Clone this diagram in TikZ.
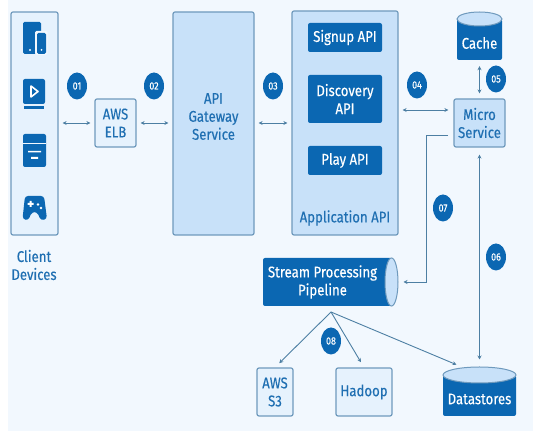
\documentclass[tikz,border=0pt]{standalone}
\usepackage{fontspec}
\setmainfont{Fira Sans}[FakeStretch=0.85,FakeBold=0.3]
\usetikzlibrary{arrows.meta,shapes.geometric}
\definecolor{pagebg}{HTML}{F2F8FE}
\definecolor{darkblue}{HTML}{0B67B2}
\definecolor{lightblue}{HTML}{C8E1F9}
\definecolor{paleblue}{HTML}{E6F2FD}
\definecolor{edgeblue}{HTML}{6F9ABD}
\definecolor{lineblue}{HTML}{4D7FA3}
\definecolor{textblue}{HTML}{1F6FB2}
\tikzset{
    boxbase/.style={rectangle,rounded corners=2pt,inner sep=0pt,align=center,font=\fontsize{15.5}{18}\selectfont},
    lightbox/.style={boxbase,draw=edgeblue,line width=1.2pt,fill=lightblue,text=textblue},
    palebox/.style={boxbase,draw=edgeblue,line width=1.2pt,fill=paleblue,text=textblue},
    darkbox/.style={boxbase,fill=darkblue,text=white},
    lidfill/.style={ellipse,inner sep=0pt,draw=edgeblue,line width=1pt,fill=lightblue},
    badge/.style={ellipse,inner sep=0pt,minimum width=20pt,minimum height=27pt,fill=darkblue,text=white,font=\fontsize{10.5}{10.5}\selectfont},
    link/.style={draw=lineblue,line width=0.9pt,-{Stealth[length=4pt,width=4pt]}},
    twoway/.style={draw=lineblue,line width=0.9pt,{Stealth[length=4pt,width=4pt]}-{Stealth[length=4pt,width=4pt]}},
    icon/.style={fill=darkblue,draw=none}
}
\begin{document}
\begin{tikzpicture}[x=1pt,y=-1pt]
    \useasboundingbox (0,0) rectangle (558,435) ;
    \fill [white] (0,0) rectangle (558,435) ;
    \fill [pagebg] (8,0) rectangle (533,431) ;
    % boxes
    \draw (34.5,123.5) node[palebox,minimum width=47pt,minimum height=223pt] (client) {} ;
    \draw (115.5,123) node[palebox,minimum width=41pt,minimum height=48pt] (elb) {AWS\\ELB} ;
    \draw (213.5,123.5) node[lightbox,minimum width=81pt,minimum height=223pt] (gateway) {} ;
    \draw (213.5,116.5) node[boxbase,text=textblue] (gatewaylabel) {API\\Gateway\\Service} ;
    \draw (345,123) node[lightbox,minimum width=106pt,minimum height=224pt] (app) {} ;
    \draw (345,37.5) node[darkbox,minimum width=74pt,minimum height=29pt] (signup) {Signup API} ;
    \draw (345,99) node[darkbox,minimum width=74pt,minimum height=48pt] (discovery) {Discovery\\API} ;
    \draw (345,160.5) node[darkbox,minimum width=74pt,minimum height=29pt] (play) {Play API} ;
    \draw (345,218) node[boxbase,text=textblue] (applabel) {Application API} ;
    \draw (479.5,123) node[lightbox,minimum width=51pt,minimum height=48pt] (micro) {Micro\\Service} ;
    \draw (275,392) node[palebox,minimum width=36pt,minimum height=48pt] (s3) {AWS\\S3} ;
    \draw (364,392) node[palebox,minimum width=56pt,minimum height=48pt] (hadoop) {Hadoop} ;
    \draw (34,265) node[boxbase,text=textblue] (clientlabel) {Client\\Devices} ;
    % stores
    \draw (479.5,39.5) node[darkbox,minimum width=45pt,minimum height=41pt] (cache) {} ;
    \draw (479.5,19) node[lidfill,minimum width=45pt,minimum height=14pt] (cachelid) {} ;
    \draw (479.5,43) node[boxbase,text=white] (cachelabel) {Cache} ;
    \draw (479.5,395.5) node[darkbox,minimum width=73pt,minimum height=41pt] (datastores) {} ;
    \draw (479.5,375) node[lidfill,minimum width=73pt,minimum height=16pt] (datalid) {} ;
    \draw (479.5,399) node[boxbase,text=white] (datalabel) {Datastores} ;
    \draw (327.5,282) node[darkbox,minimum width=129pt,minimum height=48pt] (stream) {} ;
    \draw (391.5,282) node[lidfill,minimum width=13pt,minimum height=48pt] (streamlid) {} ;
    \draw (322.5,282) node[boxbase,text=white] (streamlabel) {Stream Processing\\Pipeline} ;
    % badges
    \foreach \num/\x/\y in {01/77/86,02/154/86,03/273/86,04/417/85,05/496/79,06/496/257,07/443/208,08/331/341}
        \draw (\x,\y) node[badge] (b\num) {\num} ;
    % connectors
    \draw [twoway,shorten <=4pt,shorten >=4pt] (client.east |- elb.west) -- (elb.west) ;
    \draw [twoway,shorten <=4pt,shorten >=4pt] (elb.east) -- (gateway.west |- elb.east) ;
    \draw [twoway,shorten <=4pt,shorten >=4pt] (gateway.east |- app.west) -- (app.west) ;
    \draw [twoway,shorten <=4pt,shorten >=5pt] (app.east |- 0,110) -- (micro.west |- 0,110) ;
    \draw [twoway,shorten <=6pt,shorten >=5pt] (cache.south) -- (micro.north) ;
    \draw [twoway,shorten <=7pt,shorten >=7pt] (micro.south) -- (micro.south |- datalid.north) ;
    \coordinate (elbow1) at (426,135) ;
    \coordinate (elbow2) at (426,282) ;
    \draw [link,shorten >=5pt] (448,135) -- (elbow1) -- (elbow2) -- (streamlid.east) ;
    \coordinate (split) at (331,312) ;
    \draw [link,shorten >=6pt] (split) -- (s3.north) ;
    \draw [link,shorten >=6pt] (split) -- (hadoop.north) ;
    \draw [link,shorten >=6pt] (split) -- (462,367) ;
    % tablet and phone
    \fill [icon,rounded corners=1.5pt] (23,22) rectangle (41,54) ;
    \fill [pagebg,rounded corners=1.5pt] (35,31) rectangle (47.5,55) ;
    \fill [icon,rounded corners=1.5pt] (37,33) rectangle (46,54) ;
    \fill [pagebg] (30,50) circle (1.2pt) (41.5,50) circle (1pt) ;
    % player
    \fill [icon,rounded corners=2pt] (23,79) rectangle (45,104) ;
    \fill [icon] (24,106.5) rectangle (44,109) ;
    \draw [white,line width=1.6pt,line join=round] (31,86) -- (38,91.5) -- (31,97) -- cycle ;
    % window
    \fill [icon,rounded corners=2pt] (23,134) rectangle (46,167) ;
    \draw [pagebg,line width=0.8pt] (23,143) -- (46,143) ;
    \fill [white] (28,151) rectangle (41,152.5) (31,157) rectangle (38,159) ;
    % gamepad
    \fill [icon,rounded corners=3pt] (25,196) -- (44,196) -- (47,219) -- (41,220.5) -- (37,212) -- (32,212) -- (28,220.5) -- (22.5,219) -- cycle ;
    \fill [white] (27.5,203) rectangle (33.5,205) (29.5,201) rectangle (31.5,207) ;
    \fill [white] (38,204.5) circle (1.4pt) (41,208) circle (1.4pt) ;
\end{tikzpicture}
\end{document}
